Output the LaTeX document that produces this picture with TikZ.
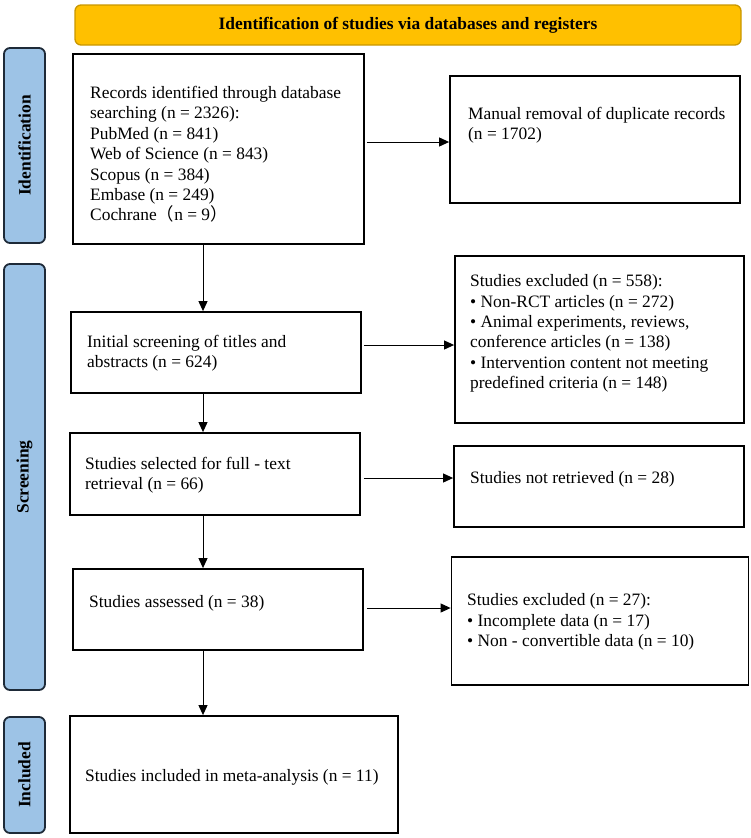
\documentclass[tikz,border=0pt]{standalone}
\usepackage{fontspec}
\setmainfont{Liberation Serif}
\newfontfamily\cjk{Noto Sans CJK SC}
\usetikzlibrary{arrows.meta}
\definecolor{gold}{HTML}{FFC000}
\definecolor{goldedge}{HTML}{C99700}
\definecolor{sideblue}{HTML}{9DC3E6}
\definecolor{sideedge}{HTML}{1E2A38}
\tikzset{
  box/.style={draw=black, line width=1.8pt, fill=white, inner sep=0pt, rectangle},
  side/.style={draw=sideedge, line width=1.8pt, fill=sideblue, rounded corners=6pt, inner sep=0pt},
  sidetxt/.style={rotate=90, font=\fontsize{17.4}{20.4}\selectfont\bfseries, inner sep=0pt},
  banner/.style={draw=goldedge, line width=1.3pt, fill=gold, rounded corners=6pt, inner sep=0pt,
    font=\fontsize{17.4}{20.4}\selectfont\bfseries},
  txt/.style={anchor=west, align=left, inner sep=0pt, font=\fontsize{17.4}{20.4}\selectfont},
  arr/.style={line width=1pt, -{Triangle[length=10pt,width=9pt]}}
}
\begin{document}
\begin{tikzpicture}[x=1pt, y=-1pt]
\useasboundingbox (0,0) rectangle (750,838);
% banner
\node[banner, minimum width=666pt, minimum height=40pt] (ban) at (408,25) {Identification of studies via databases and registers};
% side labels
\node[side, minimum width=41pt, minimum height=195pt] (L1) at (24.5,145.5) {};
\node[sidetxt] (L1t) at (L1.center) {Identification};
\node[side, minimum width=41pt, minimum height=426pt] (L2) at (24.5,477) {};
\node[sidetxt] (L2t) at (L2.center) {Screening};
\node[side, minimum width=41pt, minimum height=116pt] (L3) at (24.5,775) {};
\node[sidetxt] (L3t) at (L3.center) {Included};
% boxes
\node[box, minimum width=291pt, minimum height=190pt] (A) at (218.5,149) {};
\node[box, minimum width=290pt, minimum height=127pt] (B) at (595,139.5) {};
\node[box, minimum width=290pt, minimum height=81pt] (C) at (216,352.5) {};
\node[box, minimum width=289pt, minimum height=167pt] (D) at (599.5,339.5) {};
\node[box, minimum width=290pt, minimum height=82pt] (E) at (215,474) {};
\node[box, minimum width=290pt, minimum height=81pt] (F) at (599,486.5) {};
\node[box, minimum width=290pt, minimum height=81pt] (G) at (218,609.5) {};
\node[box, minimum width=297pt, minimum height=128pt] (H) at (600,621) {};
\node[box, minimum width=328pt, minimum height=117pt] (I) at (234,774.5) {};
% texts
\node[txt] (At) at (90,154.5) {Records identified through database\\searching (n = 2326):\\PubMed (n = 841)\\Web of Science (n = 843)\\Scopus (n = 384)\\Embase (n = 249)\\Cochrane{\cjk （}n = 9{\cjk ）}};
\node[txt] (Bt) at (468,125) {Manual removal of duplicate records\\(n = 1702)};
\node[txt] (Ct) at (87,353.5) {Initial screening of titles and\\abstracts (n = 624)};
\node[txt] (Dt) at (470,333.5) {Studies excluded (n = 558):\\• Non-RCT articles (n = 272)\\• Animal experiments, reviews,\\conference articles (n = 138)\\• Intervention content not meeting\\predefined criteria (n = 148)};
\node[txt] (Et) at (85,475.5) {Studies selected for full - text\\retrieval (n = 66)};
\node[txt] (Ft) at (470,479) {Studies not retrieved (n = 28)};
\node[txt] (Gt) at (89,603) {Studies assessed (n = 38)};
\node[txt] (Ht) at (467,622) {Studies excluded (n = 27):\\• Incomplete data (n = 17)\\• Non - convertible data (n = 10)};
\node[txt] (It) at (85,777) {Studies included in meta-analysis (n = 11)};
% connectors
\coordinate (sp) at (203,0);
\coordinate (y1) at (0,142);
\coordinate (y2) at (0,345);
\coordinate (y3) at (0,478);
\coordinate (y4) at (0,608);
\draw[arr] (A.south -| sp) -- (C.north -| sp);
\draw[arr] (C.south -| sp) -- (E.north -| sp);
\draw[arr] (E.south -| sp) -- (G.north -| sp);
\draw[arr] (G.south -| sp) -- (I.north -| sp);
\draw[arr] ([xshift=2pt]A.east |- y1) -- (B.west |- y1);
\draw[arr] ([xshift=2pt]C.east |- y2) -- (D.west |- y2);
\draw[arr] ([xshift=3pt]E.east |- y3) -- (F.west |- y3);
\draw[arr] ([xshift=3pt]G.east |- y4) -- (H.west |- y4);
\end{tikzpicture}
\end{document}
